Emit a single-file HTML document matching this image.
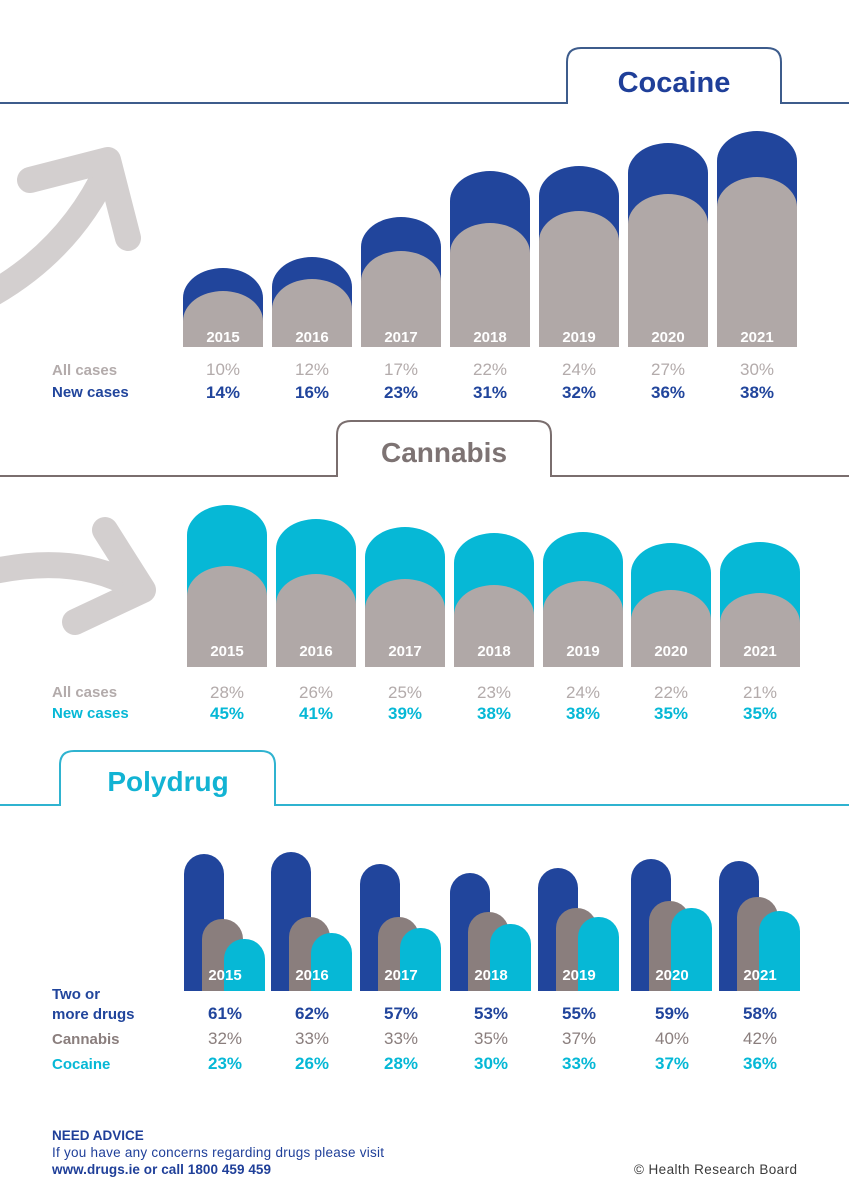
<!DOCTYPE html>
<html><head><meta charset="utf-8"><style>
html,body{margin:0;padding:0;background:#fff;}
svg{display:block;font-family:"Liberation Sans",sans-serif;font-weight:bold;}
</style></head><body>
<svg id="s" width="849" height="1200" viewBox="0 0 849 1200" xmlns="http://www.w3.org/2000/svg">
<!-- Cocaine header -->
<path d="M0,103 H567 V62 Q567,48 581,48 H767 Q781,48 781,62 V103 H849" fill="none" stroke="#3d5c8c" stroke-width="2"/>
<text x="674" y="92" text-anchor="middle" font-size="29" fill="#1f3f99">Cocaine</text>
<!-- cocaine arrow -->
<g stroke="#d3cfcf" stroke-width="26" fill="none" stroke-linecap="round" stroke-linejoin="round">
<path d="M-10,295 Q70,250 108,168"/>
<path d="M30,180 L108,160 L128,238"/>
</g>
<!-- Cannabis header -->
<path d="M0,476 H337 V435 Q337,421 351,421 H537 Q551,421 551,435 V476 H849" fill="none" stroke="#7a6e6e" stroke-width="2"/>
<text x="444" y="462" text-anchor="middle" font-size="28" fill="#7d7373">Cannabis</text>
<g stroke="#d3cfcf" stroke-width="26" fill="none" stroke-linecap="round" stroke-linejoin="round">
<path d="M-10,572 Q80,552 140,590"/>
<path d="M105,530 L143,590 L75,622"/>
</g>
<!-- Polydrug header -->
<path d="M0,805 H60 V765 Q60,751 74,751 H261 Q275,751 275,765 V805 H849" fill="none" stroke="#2fb3d0" stroke-width="2"/>
<text x="168" y="791" text-anchor="middle" font-size="28" fill="#12b3d3">Polydrug</text>
<g id="g"></g>
<!-- footer -->
<text x="52" y="1140" font-size="13.5" fill="#1f3f99">NEED ADVICE</text>
<text x="52" y="1157" font-size="13.5" font-weight="normal" fill="#1f3f99" textLength="332">If you have any concerns regarding drugs please visit</text>
<text x="52" y="1174" font-size="13.5" fill="#1f3f99" textLength="219">www.drugs.ie or call 1800 459 459</text>
<text x="797" y="1174" font-size="13.5" font-weight="normal" fill="#3a3a3a" text-anchor="end" textLength="163">© Health Research Board</text>
</svg>
<script>
var g=document.getElementById('g'),NS='http://www.w3.org/2000/svg';
function bar(x,w,top,bot,rx,ry,fill){var p=document.createElementNS(NS,'path');
p.setAttribute('d','M'+x+','+bot+'V'+(top+ry)+'A'+rx+','+ry+' 0 0 1 '+(x+rx)+','+top+'H'+(x+w-rx)+'A'+rx+','+ry+' 0 0 1 '+(x+w)+','+(top+ry)+'V'+bot+'Z');
p.setAttribute('fill',fill);g.appendChild(p);}
function txt(x,y,s,fill,size,anchor,weight){var t=document.createElementNS(NS,'text');t.setAttribute('x',x);t.setAttribute('y',y);
t.setAttribute('font-size',size);t.setAttribute('fill',fill);t.setAttribute('text-anchor',anchor||'middle');if(weight)t.setAttribute('font-weight',weight);t.textContent=s;g.appendChild(t);}
var yrs=['2015','2016','2017','2018','2019','2020','2021'];
var BLUE='#21459c',GRAY='#b0a8a7',CYAN='#06b8d6',DG='#8a7e7d';
// cocaine
var cx=[183,272,361,450,539,628,717],cb=[268,257,217,171,166,143,131],cg=[291,279,251,223,211,194,177],
 ca=['10%','12%','17%','22%','24%','27%','30%'],cn=['14%','16%','23%','31%','32%','36%','38%'];
for(var i=0;i<7;i++){bar(cx[i],80,cb[i],347,40,30,BLUE);bar(cx[i],80,cg[i],347,40,30,GRAY);
 txt(cx[i]+40,342,yrs[i],'#fff',15);txt(cx[i]+40,375,ca[i],'#b3abab',17,null,'normal');txt(cx[i]+40,398,cn[i],BLUE,17);}
txt(52,375,'All cases','#b3abab',15,'start');txt(52,397,'New cases',BLUE,15,'start');
// cannabis
var kx=[187,276,365,454,543,631,720],kc=[505,519,527,533,532,543,542],kg=[566,574,579,585,581,590,593],
 ka=['28%','26%','25%','23%','24%','22%','21%'],kn=['45%','41%','39%','38%','38%','35%','35%'];
for(var i=0;i<7;i++){bar(kx[i],80,kc[i],667,40,30,CYAN);bar(kx[i],80,kg[i],667,40,30,GRAY);
 txt(kx[i]+40,656,yrs[i],'#fff',15);txt(kx[i]+40,698,ka[i],'#b3abab',17,null,'normal');txt(kx[i]+40,719,kn[i],CYAN,17);}
txt(52,697,'All cases','#b3abab',15,'start');txt(52,718,'New cases',CYAN,15,'start');
// polydrug
var px=[184,271,360,450,538,631,719],pb=[854,852,864,873,868,859,861],pg=[919,917,917,912,908,901,897],pc=[939,933,928,924,917,908,911],
 p1=['61%','62%','57%','53%','55%','59%','58%'],p2=['32%','33%','33%','35%','37%','40%','42%'],p3=['23%','26%','28%','30%','33%','37%','36%'];
for(var i=0;i<7;i++){var x=px[i];bar(x,40,pb[i],991,20,20,BLUE);bar(x+18,41,pg[i],991,20,20,DG);bar(x+40,41,pc[i],991,20,20,CYAN);
 txt(x+41,980,yrs[i],'#fff',15);txt(x+41,1019,p1[i],BLUE,17);txt(x+41,1044,p2[i],DG,17,null,'normal');txt(x+41,1069,p3[i],CYAN,17);}
txt(52,999,'Two or',BLUE,15,'start');txt(52,1019,'more drugs',BLUE,15,'start');txt(52,1044,'Cannabis',DG,15,'start');txt(52,1069,'Cocaine',CYAN,15,'start');
</script>
</body></html>
